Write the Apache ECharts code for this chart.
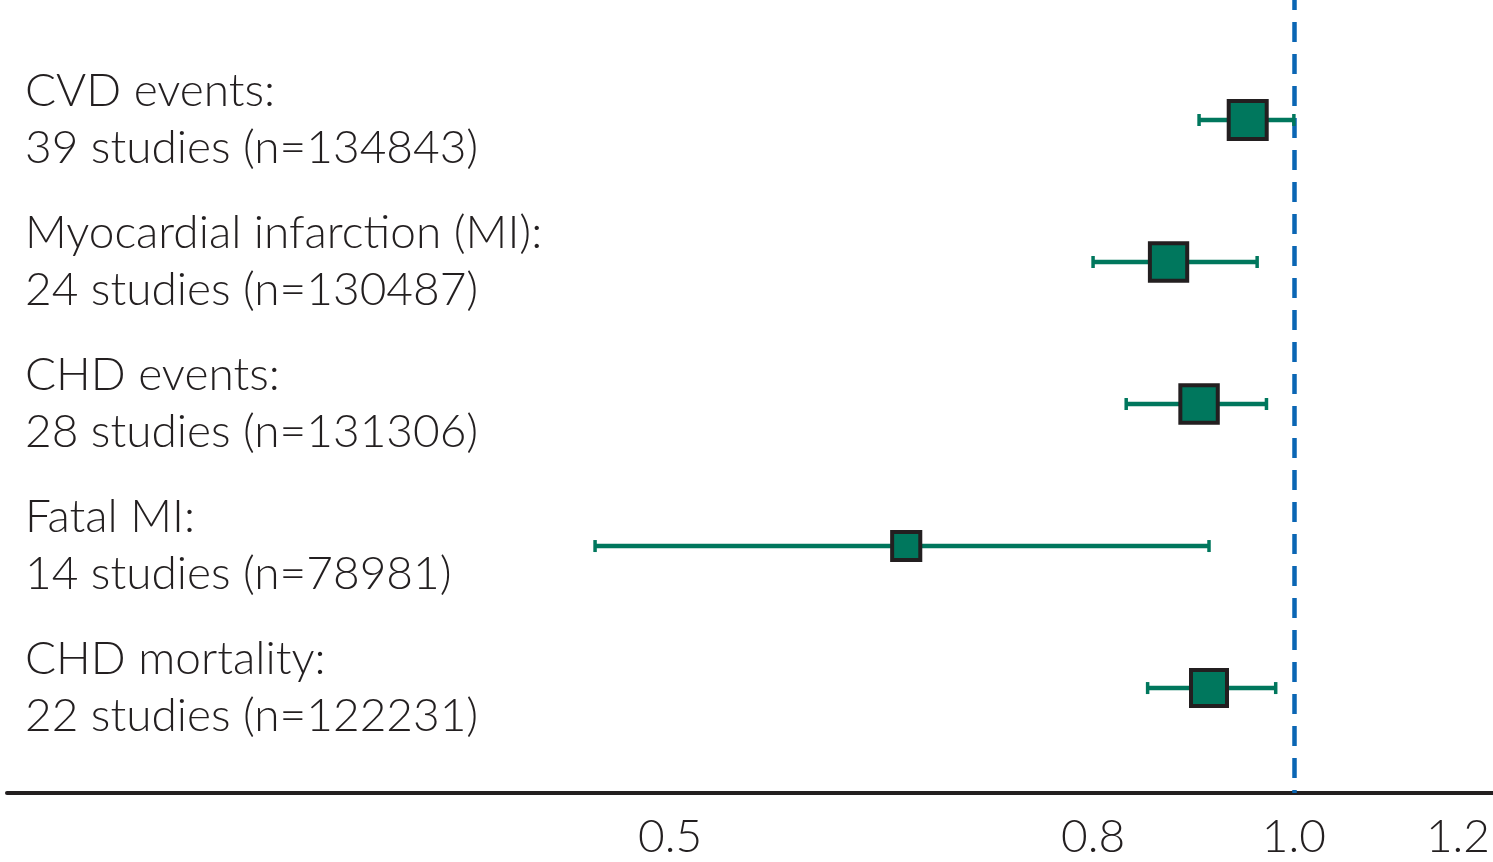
<!DOCTYPE html>
<html>
<head>
<meta charset="utf-8">
<script src="https://cdn.jsdelivr.net/npm/echarts@6/dist/echarts.min.js"></script>
<style>
  html, body { margin: 0; padding: 0; background: #ffffff; }
  #chart { width: 1493px; height: 862px; }
</style>
</head>
<body>
<div id="chart"></div>
<script>
// Outcomes, top to bottom
const outcomes = ['CVD events:', 'Myocardial infarction (MI):', 'CHD events:', 'Fatal MI:', 'CHD mortality:'];
const studyCounts = [39, 24, 28, 14, 22];
const participants = [134843, 130487, 131306, 78981, 122231];

// Relative risk estimates with 95% confidence intervals
const riskRatio = [0.95, 0.87, 0.90, 0.65, 0.91];
const ciLower = [0.90, 0.80, 0.83, 0.46, 0.85];
const ciUpper = [1.00, 0.96, 0.97, 0.91, 0.98];

// Axis ticks (log scale)
const tickValues = [0.5, 0.8, 1.0, 1.2];
const tickLabels = ['0.5', '0.8', '1.0', '1.2'];

const GREEN = '#00775d';
const DARK = '#231f20';
const BLUE = '#0a66b4';
const FONT = 'Lato, "Open Sans", sans-serif';

const ln = Math.log;
const maxN = Math.max(...participants);

const rowLabels = outcomes.map((o, i) =>
  o + '\n' + studyCounts[i] + ' studies (n=' + participants[i] + ')');

const chart = echarts.init(document.getElementById('chart'), null, { renderer: 'canvas' });

chart.setOption({
  animation: false,
  backgroundColor: '#ffffff',
  grid: { left: 7, right: 0, top: 0, bottom: 69, containLabel: false },
  xAxis: {
    type: 'value',
    min: -1.43,
    max: 0.2211,
    axisLine: { show: true, onZero: false, lineStyle: { color: DARK, width: 4 } },
    axisTick: { show: false },
    splitLine: { show: false },
    axisLabel: {
      customValues: tickValues.map(v => ln(v)),
      formatter: function (v) {
        let best = 0;
        tickValues.forEach((t, i) => {
          if (Math.abs(ln(t) - v) < Math.abs(ln(tickValues[best]) - v)) best = i;
        });
        return tickLabels[best];
      },
      margin: 21,
      color: DARK,
      fontFamily: FONT,
      fontWeight: 300,
      fontSize: 46
    }
  },
  yAxis: {
    type: 'value',
    inverse: true,
    min: -0.845,
    max: 4.739,
    axisLine: { show: false },
    axisTick: { show: false },
    splitLine: { show: false },
    axisLabel: {
      customValues: outcomes.map((_, i) => i),
      inside: true,
      align: 'left',
      verticalAlign: 'middle',
      margin: 18,
      formatter: v => rowLabels[Math.round(v)],
      color: DARK,
      fontFamily: FONT,
      fontWeight: 300,
      fontSize: 46,
      lineHeight: 57
    }
  },
  series: [
    {
      // Confidence interval whiskers
      type: 'custom',
      z: 3,
      data: outcomes.map((_, i) => [ln(ciLower[i]), ln(ciUpper[i]), i]),
      renderItem: function (params, api) {
        const a = api.coord([api.value(0), api.value(2)]);
        const b = api.coord([api.value(1), api.value(2)]);
        const cap = 6;
        const style = { stroke: GREEN, lineWidth: 4.5, fill: null };
        const capStyle = { stroke: GREEN, lineWidth: 3.5, fill: null };
        return {
          type: 'group',
          children: [
            { type: 'line', shape: { x1: a[0], y1: a[1], x2: b[0], y2: b[1] }, style: style },
            { type: 'line', shape: { x1: a[0], y1: a[1] - cap, x2: a[0], y2: a[1] + cap }, style: capStyle },
            { type: 'line', shape: { x1: b[0], y1: b[1] - cap, x2: b[0], y2: b[1] + cap }, style: capStyle }
          ]
        };
      }
    },
    {
      // Point estimates, square area proportional to sample size
      type: 'scatter',
      z: 4,
      symbol: 'rect',
      data: riskRatio.map((r, i) => ({
        value: [ln(r), i],
        symbolSize: 42 * Math.sqrt(participants[i] / maxN) - 4
      })),
      itemStyle: { color: GREEN, borderColor: DARK, borderWidth: 4, opacity: 1 },
      markLine: {
        silent: true,
        symbol: 'none',
        label: { show: false },
        lineStyle: { color: BLUE, width: 4.5, type: [20, 12], dashOffset: 10 },
        data: [{ xAxis: 0 }],
        z: 2
      }
    }
  ]
});
</script>
</body>
</html>
